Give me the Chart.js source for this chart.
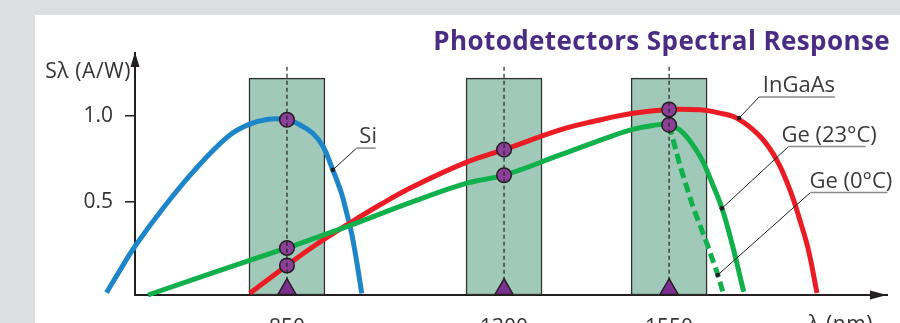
<!DOCTYPE html>
<html><head><meta charset="utf-8">
<script src="https://cdn.jsdelivr.net/npm/chart.js@4/dist/chart.umd.min.js"></script>
<style>
html,body{margin:0;padding:0;background:#dcdee0;width:900px;height:323px;overflow:hidden}
#panel{position:absolute;left:35px;top:15px;right:0;bottom:0;background:#fff}
#wrap{position:absolute;left:0;top:0;width:900px;height:323px}
</style></head><body>
<div id="panel"></div>
<div id="wrap"><canvas id="c" width="900" height="323"></canvas></div>
<script>
// ---------- data ----------
const titleText = 'Photodetectors Spectral Response';
const yAxisTitle = 'Sλ (A/W)';
const xAxisTitle = 'λ (nm)';
const xTicks = [850, 1300, 1550];
const yTicks = [0.5, 1.0];

const siNm  = [476, 506, 535, 590, 659, 728, 769, 811, 850, 877, 903, 925, 945, 963, 974, 984, 994, 1005];
const siVal = [-0.03, 0.11, 0.24, 0.45, 0.685, 0.88, 0.947, 0.98, 0.977, 0.947, 0.9, 0.821, 0.685, 0.549, 0.432, 0.316, 0.16, -0.034];

const ingaasNm  = [773, 850, 904, 974, 1043, 1111, 1225, 1300, 1385, 1435, 1493, 1550, 1597, 1627, 1655, 1688, 1713, 1733, 1748, 1761, 1774];
const ingaasVal = [-0.034, 0.128, 0.237, 0.364, 0.482, 0.587, 0.733, 0.803, 0.918, 0.967, 1.013, 1.037, 1.035, 1.016, 0.981, 0.879, 0.743, 0.568, 0.393, 0.218, -0.033];

const ge23Nm  = [562, 836, 850, 974, 1111, 1225, 1300, 1385, 1461, 1496, 1526, 1550, 1571, 1597, 1615, 1630, 1645, 1663];
const ge23Val = [-0.044, 0.218, 0.23, 0.354, 0.5, 0.609, 0.654, 0.772, 0.879, 0.922, 0.944, 0.947, 0.901, 0.763, 0.609, 0.461, 0.259, -0.025];

const ge0Nm  = [1550, 1567, 1586, 1607, 1624, 1632];
const ge0Val = [0.947, 0.704, 0.471, 0.259, 0.072, -0.035];

const markerNm  = [850, 850, 850, 1300, 1300, 1550, 1550];
const markerVal = [0.977, 0.23, 0.128, 0.803, 0.654, 1.037, 0.947];

const labelNames   = ['Si', 'InGaAs', 'Ge (23°C)', 'Ge (0°C)'];
const labelOnNm    = [945, 1656, 1630, 1623.5];
const labelOnVal   = [0.685, 0.987, 0.461, 0.072];
const labelAtNm    = [994.5, 1686, 1731, 1764];
const labelAtVal   = [0.812, 1.109, 0.821, 0.553];
const labelLineLen = [19, 76, 77, 77];

const Y_MIN = -0.044, Y_MAX = 1.366, BOX_TOP = 1.22, DASH_TOP = 1.286, TRI_Y = -0.01;
const X_MIN = 535, X_MAX = 1880;

// ---------- non-uniform wavelength axis ----------
const BREAK = 1300, STRETCH = 1.3687;
const fwd = nm => nm <= BREAK ? nm : BREAK + (nm - BREAK) * STRETCH;
const pts = (xs, ys) => xs.map((x, i) => ({x: fwd(x), y: ys[i]}));

const INK = '#231f20';
const FONT = '"Open Sans", "Noto Sans", sans-serif';

const vlines = [];
xTicks.forEach(t => { vlines.push({x: fwd(t), y: DASH_TOP}, {x: fwd(t), y: Y_MIN}, {x: fwd(t), y: null}); });

const curve = (data, color, extra) => Object.assign({
  type: 'line', data, borderColor: color, borderWidth: 5, pointRadius: 0,
  tension: 0.4, fill: false, clip: false, order: 5, borderCapStyle: 'butt'
}, extra || {});

const decor = {
  id: 'decor',
  afterDatasetsDraw(chart) {
    const {ctx, chartArea: a, scales: {x, y}} = chart;
    ctx.save();
    // arrows
    ctx.fillStyle = INK;
    ctx.beginPath();
    ctx.moveTo(a.left, a.top - 1); ctx.lineTo(a.left - 4.5, a.top + 14); ctx.lineTo(a.left + 4.5, a.top + 14); ctx.closePath(); ctx.fill();
    ctx.beginPath();
    ctx.moveTo(a.right, a.bottom); ctx.lineTo(a.right - 17, a.bottom - 4.5); ctx.lineTo(a.right - 17, a.bottom + 4.5); ctx.closePath(); ctx.fill();
    // axis titles
    ctx.fillStyle = '#333';
    ctx.font = '21px ' + FONT;
    ctx.letterSpacing = '0.6px';
    ctx.textBaseline = 'alphabetic';
    ctx.textAlign = 'right';
    ctx.fillText(yAxisTitle, a.left - 4, a.top + 25);
    ctx.textAlign = 'left';
    ctx.fillText(xAxisTitle, a.right - 79, a.bottom + 36);
    // title
    ctx.fillStyle = '#4b2c85';
    ctx.font = 'bold 26px ' + FONT;
    ctx.letterSpacing = '0.4px';
    ctx.textAlign = 'right';
    ctx.fillText(titleText, a.right + 3, a.top - 3);
    // curve labels
    ctx.font = '22px ' + FONT;
    ctx.letterSpacing = '0px';
    labelNames.forEach((name, i) => {
      const px = x.getPixelForValue(fwd(labelOnNm[i])), py = y.getPixelForValue(labelOnVal[i]);
      const qx = x.getPixelForValue(fwd(labelAtNm[i])), qy = y.getPixelForValue(labelAtVal[i]);
      ctx.strokeStyle = INK; ctx.lineWidth = 1;
      ctx.beginPath(); ctx.moveTo(px, py); ctx.lineTo(qx, qy); ctx.stroke();
      ctx.fillStyle = INK;
      ctx.beginPath(); ctx.arc(px, py, 2.3, 0, Math.PI * 2); ctx.fill();
      ctx.strokeStyle = '#8a8a8a'; ctx.lineWidth = 1.5;
      ctx.beginPath(); ctx.moveTo(qx, qy); ctx.lineTo(qx + labelLineLen[i], qy); ctx.stroke();
      ctx.fillStyle = '#3a3a3a'; ctx.textAlign = 'center';
      ctx.fillText(name, qx + labelLineLen[i] / 2 + 2, qy - 5);
    });
    ctx.restore();
  }
};

new Chart(document.getElementById('c'), {
  type: 'line',
  data: {
    datasets: [
      {type: 'line', data: xTicks.map(t => ({x: fwd(t), y: TRI_Y})), showLine: false, pointStyle: 'triangle',
       pointRadius: 10.5, pointBackgroundColor: '#7b2f91', pointBorderColor: INK, pointBorderWidth: 1.5, clip: false, order: 0},
      {type: 'line', data: vlines, borderColor: INK, borderWidth: 1.2, borderDash: [4, 3], pointRadius: 0, spanGaps: false, order: 1},
      {type: 'line', data: pts(markerNm, markerVal), showLine: false, pointStyle: 'circle', pointRadius: 7.3,
       pointBackgroundColor: '#8b3f99', pointBorderColor: INK, pointBorderWidth: 1.5, clip: false, order: 2},
      curve(pts(ge0Nm, ge0Val), '#10b04b', {borderDash: [10, 5], tension: 0}),
      curve(pts(ge23Nm, ge23Val), '#10b04b'),
      curve(pts(ingaasNm, ingaasVal), '#ec1c24'),
      curve(pts(siNm, siVal), '#1d86c8'),
      {type: 'bar', data: xTicks.map(t => ({x: fwd(t), y: [Y_MIN, BOX_TOP]})), backgroundColor: '#a1c9b9',
       borderColor: '#2f2f2f', borderWidth: 1.5, borderSkipped: false, barThickness: 76, order: 10}
    ]
  },
  options: {
    responsive: false, animation: false, devicePixelRatio: 1,
    layout: {padding: {top: 53, right: 13, left: 0, bottom: 0}},
    plugins: {legend: {display: false}, tooltip: {enabled: false}, title: {display: false}},
    scales: {
      x: {
        type: 'linear', bounds: 'data', offset: false,
        afterDataLimits: s => { s.min = fwd(X_MIN); s.max = fwd(X_MAX); },
        afterBuildTicks: s => { s.ticks = xTicks.map(t => ({value: fwd(t)})); },
        afterFit: s => { s.height = 28; },
        ticks: {callback: (v, i) => String(xTicks[i]), font: {size: 21, family: FONT}, color: '#333', padding: 20, maxRotation: 0, autoSkip: false},
        grid: {display: false, drawTicks: false},
        border: {display: true, color: INK, width: 2}
      },
      y: {
        type: 'linear', min: Y_MIN, max: Y_MAX,
        afterBuildTicks: s => { s.ticks = yTicks.map(v => ({value: v})); },
        afterFit: s => { s.width = 135; },
        ticks: {callback: v => Number(v).toFixed(1), font: {size: 21, family: FONT}, color: '#333', padding: 12},
        grid: {display: true, drawOnChartArea: false, drawTicks: true, tickLength: 10, color: INK, lineWidth: 1.5},
        border: {display: true, color: INK, width: 2}
      }
    }
  },
  plugins: [decor]
});
</script>
</body></html>
